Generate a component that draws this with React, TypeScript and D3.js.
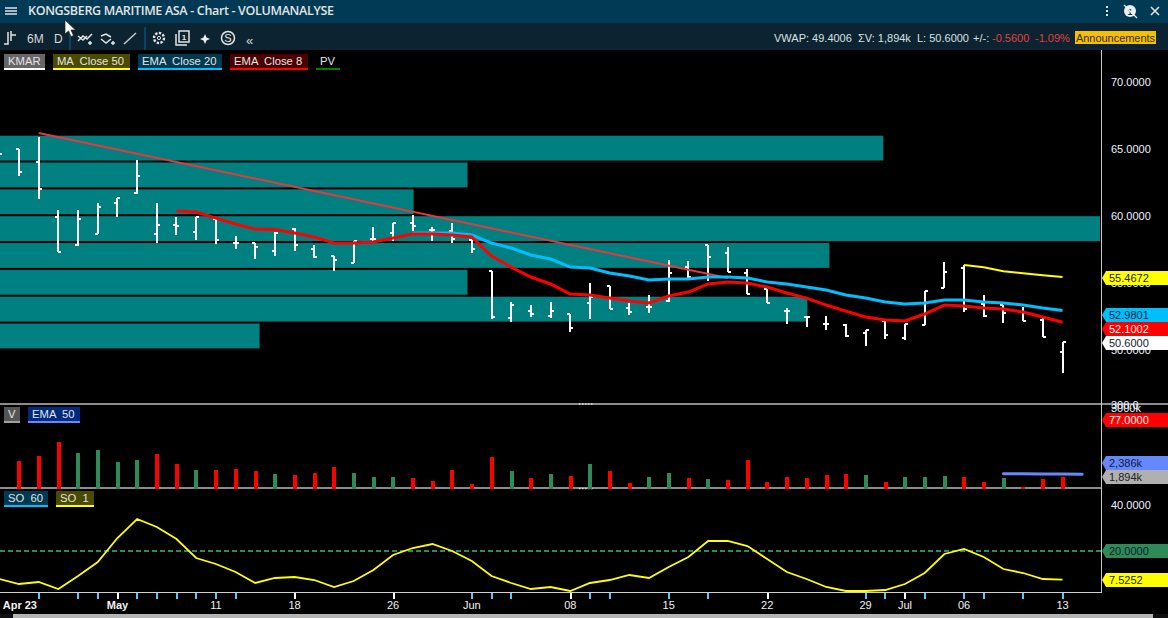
import React from 'react';
import * as d3 from 'd3';

// KMAR daily bars, first entry is the bar cut off at the left edge
const opens = [64.63, 65.01, 64.04, 59.94, 57.85, 58.67, 60.98, 61.73, 58.67, 59.34, 58.82, 59.79, 58.0, 58.0, 57.41, 59.04, 57.55, 57.03, 56.51, 58.3, 58.75, 59.49, 58.97, 58.9, 58.23, 55.91, 52.41, 52.93, 52.56, 52.71, 53.53, 54.8, 53.16, 53.23, 53.68, 56.21, 57.85, 57.26, 55.77, 54.57, 52.93, 52.49, 51.97, 51.89, 51.29, 52.19, 50.92, 51.89, 54.65, 56.14, 53.46, 53.38, 52.86, 52.26, 49.88];
const highs = [64.63, 65.01, 65.9, 60.46, 60.46, 60.98, 61.35, 64.19, 60.98, 59.94, 59.94, 59.79, 58.52, 58.0, 58.82, 59.12, 57.85, 57.03, 58.15, 59.19, 59.49, 60.09, 59.19, 59.49, 58.23, 55.91, 53.61, 53.38, 53.61, 52.71, 55.02, 54.8, 53.53, 54.13, 56.73, 56.66, 57.85, 57.7, 56.06, 54.57, 53.16, 52.56, 52.56, 51.97, 51.52, 52.19, 51.97, 54.42, 56.59, 56.36, 54.13, 53.38, 53.23, 52.41, 50.62];
const lows = [64.63, 62.99, 61.28, 57.33, 57.78, 58.67, 59.94, 61.65, 58.0, 58.6, 58.23, 57.93, 57.55, 56.81, 57.03, 57.41, 56.88, 55.91, 56.51, 58.0, 58.15, 58.9, 58.15, 58.0, 57.26, 52.34, 52.11, 52.49, 52.41, 51.37, 52.34, 53.08, 52.64, 52.79, 53.61, 55.39, 55.17, 55.84, 54.2, 53.53, 51.97, 51.74, 51.52, 51.0, 50.33, 50.85, 50.77, 51.89, 54.65, 52.86, 52.49, 52.04, 52.19, 51.0, 48.31];
const closes = [64.63, 63.29, 62.03, 57.33, 59.79, 60.68, 61.35, 62.99, 59.34, 59.27, 59.94, 58.23, 58.0, 57.7, 58.75, 57.85, 56.96, 56.73, 58.15, 58.3, 59.49, 59.27, 58.97, 58.3, 57.55, 52.49, 53.38, 52.71, 52.93, 51.67, 53.98, 53.08, 52.86, 53.23, 55.77, 55.47, 56.96, 55.84, 54.2, 53.53, 52.93, 52.49, 51.97, 51.07, 51.52, 51.15, 51.97, 54.42, 55.84, 53.08, 52.56, 52.79, 52.19, 51.0, 50.6];

const ema8Start = 9;
const ema8 = [60.39, 60.31, 59.86, 59.42, 59.04, 59.0, 58.75, 58.45, 58.0, 58.0, 58.08, 58.37, 58.67, 58.67, 58.6, 58.45, 57.03, 56.21, 55.47, 54.95, 54.2, 54.13, 53.9, 53.68, 53.53, 54.05, 54.35, 54.95, 55.1, 55.02, 54.72, 54.28, 53.9, 53.38, 52.93, 52.49, 52.26, 52.19, 52.71, 53.38, 53.31, 53.16, 53.08, 52.86, 52.49, 52.1];
const ema20Start = 21;
const ema20 = [58.75, 58.75, 58.75, 58.6, 58.0, 57.63, 57.11, 56.81, 56.21, 56.14, 55.77, 55.54, 55.24, 55.32, 55.32, 55.47, 55.47, 55.39, 55.1, 54.95, 54.72, 54.5, 54.13, 53.9, 53.61, 53.46, 53.53, 53.75, 53.75, 53.61, 53.53, 53.38, 53.16, 52.98];
const ma50Start = 49;
const ma50 = [56.36, 56.2, 55.9, 55.75, 55.6, 55.47];

// volume profile, 2 NOK bins from 66 down to 50, share of the plot width
const pvBinTops = [66, 64, 62, 60, 58, 56, 54, 52];
const pvShare = [80.3, 42.5, 37.6, 100, 75.4, 42.5, 73.4, 23.6];

const trendIdx = [2, 37];
const trendPrice = [66.2, 55.39];

const volumes = [0, 4644, 5504, 7912, 6020, 6536, 4472, 4816, 5848, 4128, 3096, 3096, 3268, 2924, 2408, 2236, 2580, 3612, 2580, 1892, 1892, 1720, 1204, 3096, 688, 5332, 2924, 1720, 2408, 2064, 4128, 2924, 860, 1892, 2580, 1720, 1548, 1376, 4816, 1032, 1892, 1720, 2236, 2408, 2236, 1032, 1892, 1892, 2064, 1892, 1032, 1720, 172, 1548, 1894];
const volumeUp = [0, 0, 0, 0, 1, 1, 1, 1, 0, 0, 1, 0, 0, 0, 1, 0, 0, 0, 1, 1, 1, 0, 0, 0, 0, 0, 1, 0, 1, 0, 1, 0, 0, 1, 1, 0, 1, 0, 0, 0, 0, 0, 0, 0, 1, 0, 1, 1, 1, 0, 0, 1, 0, 0, 0];
const volEmaStart = 51;
const volEma = [2470, 2440, 2415, 2400, 2386];

const so1 = [7.83, 5.65, 6.52, 3.48, 9.13, 15.22, 25.65, 33.91, 30.43, 25.22, 16.96, 14.35, 10.87, 6.09, 8.26, 8.7, 7.39, 4.35, 6.96, 11.74, 18.26, 21.3, 23.04, 20, 15.65, 9.13, 6.09, 3.48, 4.35, 2.61, 6.09, 7.39, 9.57, 8.26, 13.04, 17.39, 24.35, 24.35, 22.17, 16.52, 10.87, 7.83, 4.35, 2.61, 2.61, 3.04, 5.65, 10.43, 18.7, 20.87, 17.39, 12.17, 10.43, 7.83, 7.53];

const priceTicks = [70, 65, 60, 55, 50];
const dateLabels = ['Apr 23', 'May', '11', '18', '26', 'Jun', '08', '15', '22', '29', 'Jul', '06', '13'];
const dateIdx = [2, 6, 11, 15, 20, 24, 29, 34, 39, 44, 46, 49, 54];
const boldDates = ['Apr 23', 'May'];
const newsIdx = [2, 4, 5, 7, 8, 9, 10, 11, 12, 24, 25, 26, 30, 31, 34, 36, 44, 45, 47, 49, 50, 52, 54];

const W = 1168;
const H = 618;
const plotRight = 1101;
const FONT = '"Liberation Sans", Arial, sans-serif';

const x = d3.scaleLinear().domain([0, 54]).range([-0.7, 1062.5]);
const yPrice = d3.scaleLinear().domain([70, 50]).range([82, 350.4]);
const yVol = d3.scaleLinear().domain([0, 1894]).range([488, 477]);
const ySo = d3.scaleLinear().domain([20, 40]).range([551, 505]);
const xPv = d3.scaleLinear().domain([0, 100]).range([0, 1100]);

const priceLine = (vals: number[], start: number) =>
  d3.line<number>().x((_, i) => x(i + start)).y(d => yPrice(d))(vals) || '';

const Chip = ({ px, py, w, fill, line, text }: any) => (
  <g>
    <rect x={px} y={py} width={w} height={14} fill={fill} />
    <rect x={px} y={py + 14} width={w} height={2} fill={line} />
    <text x={px + 4} y={py + 11} fontSize={11.25} fill="#e4e4e4" fontFamily={FONT} style={{ whiteSpace: 'pre' }}>{text}</text>
  </g>
);

const Tag = ({ cy, fill, text, color }: any) => (
  <g>
    <path d={`M1102,${cy} L1106,${cy - 7} H1168 V${cy + 7} H1106 Z`} fill={fill} />
    <text x={1109} y={cy + 4} fontSize={11} fill={color} fontFamily={FONT}>{text}</text>
  </g>
);

export default function App() {
  return (
    <svg width={W} height={H} viewBox={`0 0 ${W} ${H}`} style={{ position: 'absolute', left: 0, top: 0, display: 'block' }}>
      <rect width={W} height={H} fill="#000" />

      {/* title bar */}
      <rect width={W} height={23} fill="#013a54" />
      <rect y={23} width={W} height={27} fill="#0c2431" />
      <path d="M5,8H17M5,11H17M5,14H17" stroke="#e4e4e4" strokeWidth={1.6} />
      <text x={28} y={15} fontSize={12.5} fontWeight={600} fill="#e4e4e4" fontFamily="'Open Sans', sans-serif" textLength={306}>KONGSBERG MARITIME ASA - Chart - VOLUMANALYSE</text>
      <path d="M1107,6v2M1107,10v2M1107,14v2" stroke="#e4e4e4" strokeWidth={2} />
      <circle cx={1130} cy={11} r={6} fill="#eee" />
      <text x={1130} y={15} fontSize={9} fontWeight={700} textAnchor="middle" fill="#013a54" fontFamily={FONT}>1</text>
      <path d="M1124,5L1137,18" stroke="#eee" strokeWidth={1.2} />
      <path d="M1151,7L1159,15M1159,7L1151,15" stroke="#e4e4e4" strokeWidth={1.6} />

      {/* toolbar */}
      <path d="M4,44H8V32M8,43V36M11,31V41M11,35H16" stroke="#e4e4e4" strokeWidth={1.5} fill="none" />
      <text x={27} y={43} fontSize={12} fill="#d8d8d8" fontFamily={FONT}>6M</text>
      <text x={54} y={43} fontSize={12} fill="#d8d8d8" fontFamily={FONT}>D</text>
      <path d="M70,27V50M145,27V50" stroke="#0a4f70" strokeWidth={1.5} />
      <path d="M78,41L83,36L87,39L92,34M78,36L83,40L87,36M88,43H92M90,41V45" stroke="#e4e4e4" strokeWidth={1.5} fill="none" />
      <path d="M101,36L106,34L111,37M101,39L106,43L111,39M111,43H115M113,41V45" stroke="#e4e4e4" strokeWidth={1.5} fill="none" />
      <path d="M124,44L136,33" stroke="#c8c8c8" strokeWidth={1.5} />
      <circle cx={159} cy={38} r={5} fill="none" stroke="#e4e4e4" strokeWidth={2.4} strokeDasharray="2.4 1.4" />
      <circle cx={159} cy={38} r={1.6} fill="none" stroke="#e4e4e4" />
      <rect x={179} y={31} width={10} height={11} fill="none" stroke="#e4e4e4" strokeWidth={1.5} />
      <path d="M176,34V45H187" fill="none" stroke="#e4e4e4" strokeWidth={1.5} />
      <text x={184} y={40} fontSize={8} fontWeight={700} textAnchor="middle" fill="#e4e4e4" fontFamily={FONT}>1</text>
      <path d="M205,34L206.5,37.5L210,39L206.5,40.5L205,44L203.5,40.5L200,39L203.5,37.5Z" fill="#eee" />
      <circle cx={228} cy={38} r={6.5} fill="none" stroke="#e4e4e4" strokeWidth={1.5} />
      <text x={228} y={42} fontSize={11} textAnchor="middle" fill="#e4e4e4" fontFamily={FONT}>S</text>
      <text x={246} y={45} fontSize={13} fill="#d8d8d8" fontFamily={FONT}>«</text>

      {/* stats */}
      <g fontSize={11} fontFamily={FONT}>
        <text x={774} y={42} fill="#d8e0e6">VWAP: 49.4006</text>
        <text x={858} y={42} fill="#d8e0e6">ΣV: 1,894k</text>
        <text x={917} y={42} fill="#d8e0e6">L: 50.6000</text>
        <text x={973} y={42} fill="#d8e0e6">+/-:</text>
        <text x={992} y={42} fill="#e04040">-0.5600</text>
        <text x={1035} y={42} fill="#e04040">-1.09%</text>
      </g>
      <rect x={1075} y={31} width={81} height={13} fill="#f5c000" />
      <text x={1076} y={42} fontSize={11} fill="#3a2a00" fontFamily={FONT} textLength={79}>Announcements</text>

      {/* price pane */}
      <g clipPath="url(#plot)">
        <clipPath id="plot"><rect x={0} y={50} width={1100} height={353} /></clipPath>
        {pvBinTops.map((p, i) => (
          <rect key={p} x={0} y={yPrice(p)} width={xPv(pvShare[i])} height={yPrice(p - 2) - yPrice(p) - 2} fill="#008080" />
        ))}
        {opens.map((o, i) => (
          <g key={i} fill="#fff" shapeRendering="crispEdges">
            <rect x={Math.round(x(i)) - 1} y={yPrice(highs[i])} width={2} height={Math.max(1, yPrice(lows[i]) - yPrice(highs[i]))} />
            <rect x={Math.round(x(i)) - 3} y={Math.round(yPrice(o)) - 1} width={3} height={2} />
            <rect x={Math.round(x(i))} y={Math.round(yPrice(closes[i])) - 1} width={3} height={2} />
          </g>
        ))}
        <line x1={x(trendIdx[0])} y1={yPrice(trendPrice[0])} x2={x(trendIdx[1])} y2={yPrice(trendPrice[1])} stroke="#e8383c" strokeWidth={2} />
        <path d={priceLine(ma50, ma50Start)} fill="none" stroke="#ffff00" strokeWidth={2} />
        <path d={priceLine(ema20, ema20Start)} fill="none" stroke="#00bfff" strokeWidth={3} />
        <path d={priceLine(ema8, ema8Start)} fill="none" stroke="#ff0000" strokeWidth={3} />
      </g>

      <Chip px={4} py={54} w={41} fill="#666666" line="#ffffff" text="KMAR" />
      <Chip px={53} py={54} w={77} fill="#4a4a00" line="#ffff00" text="MA  Close 50" />
      <Chip px={138} py={54} w={84} fill="#003a52" line="#00bfff" text="EMA  Close 20" />
      <Chip px={230} py={54} w={78} fill="#4a0000" line="#ff0000" text="EMA  Close 8" />
      <Chip px={316} py={54} w={24} fill="#000000" line="#008000" text="PV" />

      {/* pane frames */}
      <rect x={0} y={403} width={W} height={2} fill="#8c8c8c" />
      <rect x={0} y={487} width={plotRight} height={2} fill="#8c8c8c" />
      <path d="M579,404H593M579,488.5H593" stroke="#ddd" strokeWidth={1.5} strokeDasharray="1.5 1.5" />
      <rect x={0} y={592} width={plotRight} height={1} fill="#d0d0d0" />
      <rect x={plotRight} y={50} width={1} height={543} fill="#c8c8c8" />

      {/* volume pane, bars sit on top of the separator */}
      {volumes.filter(v => v > 0).map((v, k) => (
        <rect key={k} x={x(k + 1) - 1.7} y={yVol(v)} width={4} height={yVol(0) - yVol(v) + 1} fill={volumeUp[k + 1] ? '#2e8b57' : '#ff0000'} shapeRendering="crispEdges" />
      ))}
      <path d={d3.line<number>().x((_, i) => x(i + volEmaStart)).y(d => yVol(d))(volEma) || ''} fill="none" stroke="#6688ff" strokeWidth={3} strokeLinecap="round" />
      <Chip px={4} py={407} w={16} fill="#555555" line="#a0a0a0" text="V" />
      <Chip px={28} py={407} w={52} fill="#002a80" line="#6688ff" text="EMA  50" />

      {/* stochastic pane */}
      <line x1={0} x2={plotRight} y1={ySo(20)} y2={ySo(20)} stroke="#2e8b57" strokeWidth={2} strokeDasharray="5 3" />
      <path d={d3.line<number>().x((_, i) => x(i)).y(d => ySo(d))(so1) || ''} fill="none" stroke="#ffff00" strokeWidth={1.8} />
      <Chip px={4} py={491} w={44} fill="#003a52" line="#00bfff" text="SO  60" />
      <Chip px={56} py={491} w={38} fill="#4a4a00" line="#ffff00" text="SO  1" />

      {/* x axis */}
      {newsIdx.map(i => (
        <rect key={i} x={x(i) - 1} y={593} width={2} height={6} fill="#5ac8fa" shapeRendering="crispEdges" />
      ))}
      {dateIdx.map((i, k) => {
        const label = dateLabels[k];
        const bold = boldDates.includes(label);
        const isNews = newsIdx.includes(i);
        return (
          <g key={label}>
            {!isNews && <rect x={x(i) - 0.5} y={593} width={2} height={6} fill="#fff" shapeRendering="crispEdges" />}
            <text x={label === 'Apr 23' ? 37 : x(i)} y={609} fontSize={11} fontWeight={bold ? 700 : 400} fill="#f2f2f2" textAnchor={label === 'Apr 23' ? 'end' : 'middle'} fontFamily={FONT}>{label}</text>
          </g>
        );
      })}

      {/* right axis */}
      {priceTicks.map(t => (
        <text key={t} x={1111} y={yPrice(t) + 4} fontSize={11} fill="#eef2ff" fontFamily={FONT}>{t.toFixed(4)}</text>
      ))}
      <g clipPath="url(#volTop)">
        <clipPath id="volTop"><rect x={1103} y={401} width={65} height={12} /></clipPath>
        <text x={1111} y={412} fontSize={11} fill="#eef2ff" fontFamily={FONT}>3000k</text>
        <text x={1111} y={409} fontSize={11} fill="#eef2ff" fontFamily={FONT}>300.0</text>
      </g>
      <text x={1111} y={ySo(40) + 4} fontSize={11} fill="#eef2ff" fontFamily={FONT}>40.0000</text>

      <Tag cy={278} fill="#ffff00" text="55.4672" color="#222" />
      <Tag cy={315} fill="#00bfff" text="52.9801" color="#102030" />
      <Tag cy={329} fill="#ff0000" text="52.1002" color="#fff" />
      <Tag cy={343} fill="#ffffff" text="50.6000" color="#102030" />
      <Tag cy={420} fill="#ff0000" text="77.0000" color="#fff" />
      <Tag cy={463} fill="#6688ff" text="2,386k" color="#102030" />
      <Tag cy={477} fill="#b0b0b0" text="1,894k" color="#222" />
      <Tag cy={551} fill="#2e8b57" text="20.0000" color="#102030" />
      <Tag cy={580} fill="#ffff00" text="7.5252" color="#222" />

      {/* scrollbar */}
      <rect x={0} y={614} width={W} height={4} fill="#101010" />
      <rect x={13} y={614} width={1140} height={4} fill="#b4b4b4" />

      {/* mouse pointer */}
      <path d="M65,20V34L68.5,31L71,36.5L73.5,35.5L71,30L75.5,30Z" fill="#fff" stroke="#222" strokeWidth={0.7} />
    </svg>
  );
}
